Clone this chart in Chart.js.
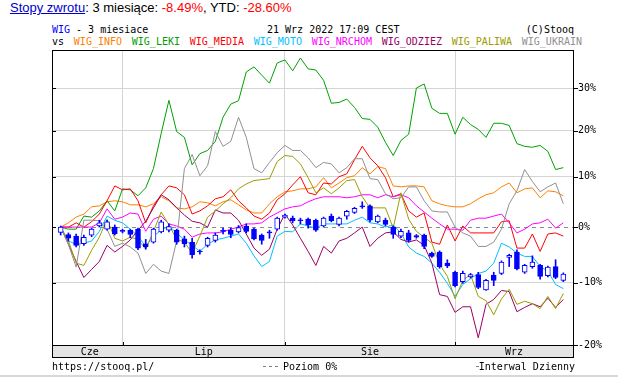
<!DOCTYPE html>
<html>
<head>
<meta charset="utf-8">
<script src="https://cdn.jsdelivr.net/npm/chart.js@4.4.1/dist/chart.umd.min.js"></script>
<style>
  html, body { margin: 0; padding: 0; background: #fff; }
  #wrap { position: relative; width: 618px; height: 378px; overflow: hidden; }
  #chart { position: absolute; left: 0; top: 0; }
  .title { position: absolute; left: 10px; top: 0; font: 13px "Liberation Sans", Arial, sans-serif; line-height: 15px; white-space: nowrap; color: #000; }
  .title a { color: #0000cc; text-decoration: underline; }
  .red { color: #ff0000; }
  .mono { position: absolute; font: 10px "DejaVu Sans Mono", monospace; line-height: 12px; white-space: nowrap; color: #000; }
  #legend { display: flex; gap: 9.8px; }
  .dash { position: absolute; left: 263px; top: 366px; width: 18px; height: 1px; background: repeating-linear-gradient(to right, #808080 0 3px, transparent 3px 6px); }
</style>
</head>
<body>
<div id="wrap">
  <div class="title"><a>Stopy zwrotu</a>: 3 miesiące: <span class="red">-8.49%</span>, YTD: <span class="red">-28.60%</span></div>
  <div class="mono" style="left:52px;top:23.5px"><span style="color:#0000ff">WIG</span> - 3 miesiace</div>
  <div class="mono" style="left:267px;top:23.5px">21 Wrz 2022 17:09 CEST</div>
  <div class="mono" style="right:44px;top:23.5px">(C)Stooq</div>
  <div class="mono" id="legend" style="left:52px;top:36px"><span>vs</span></div>
  <canvas id="chart" width="618" height="378"></canvas>
  <div class="mono" style="left:52px;top:360.5px">https://stooq.pl/</div>
  <div class="dash"></div>
  <div class="mono" style="left:283px;top:360.5px">Poziom 0%</div>
  <div style="position:absolute;left:476px;top:366px;width:3px;height:1px;background:#808080"></div>
  <div class="mono" style="right:43px;top:360.5px">Interwal Dzienny</div>
  <div style="position:absolute;left:0;top:375px;width:618px;height:2px;background:#d8d8d8"></div>
</div>
<script>
// trading days 21 Jun - 21 Sep 2022, x = day index
const monthNames = ["Cze", "Lip", "Sie", "Wrz"];
const monthStart = [8, 29, 51]; // first session of Lip, Sie, Wrz
const yTickPct = [-20, -10, 0, 10, 20, 30];

// WIG candles, % vs first close
const wigOpen = [-1.0, -1.4, -1.7, -3.1, -1.5, 0.2, -0.4, 0.0, -0.8, -0.6, -0.4, -3.1, -2.8, -0.9, -0.6, -0.6, -2.2, -2.8, -4.6, -3.4, -2.5, -0.8, -0.6, -0.9, 0.2, -0.4, -1.5, -1.1, -0.4, 1.9, 1.7, 1.4, 1.5, 1.3, 0.2, 2.1, 0.5, 2.1, 2.8, 3.9, 4.1, 1.0, 1.3, 0.0, -1.7, -1.1, -1.6, -1.5, -4.8, -4.6, -6.6, -8.2, -9.8, -9.0, -8.6, -11.2, -8.7, -8.4, -5.6, -4.6, -8.2, -7.2, -7.0, -8.8, -7.2, -9.6];
const wigHigh = [0.2, -1.1, -1.3, -1.5, -0.2, 1.3, 1.3, 0.4, -0.4, -0.4, -0.2, -2.3, -0.2, 1.3, 0.6, -0.4, -1.7, -2.1, -4.2, -1.9, -1.1, -0.2, -0.2, 0.3, 0.6, -0.2, -1.3, -0.6, 1.9, 2.5, 2.1, 1.7, 1.7, 1.5, 1.9, 2.5, 1.9, 3.2, 3.8, 4.9, 4.3, 2.3, 1.7, 0.2, -0.4, -0.6, -1.4, -1.3, -4.6, -4.4, -6.0, -8.0, -8.0, -8.4, -8.2, -9.4, -8.2, -6.2, -5.0, -4.2, -6.8, -5.3, -6.8, -7.1, -6.0, -8.3];
const wigLow = [-1.5, -2.6, -3.7, -3.4, -1.8, 0.0, -0.6, -1.5, -1.1, -2.0, -4.2, -4.1, -3.0, -1.1, -0.9, -3.2, -3.7, -5.7, -5.0, -3.7, -2.8, -1.3, -2.0, -1.1, -1.1, -2.4, -3.2, -2.1, -0.6, 1.7, 0.8, 0.6, -0.2, -0.8, 0.0, 1.0, 0.2, 1.5, 2.6, 3.6, 1.0, 0.8, 0.2, -2.1, -2.0, -2.8, -2.1, -4.0, -5.6, -7.5, -7.4, -10.7, -10.1, -9.2, -11.0, -11.3, -10.5, -8.6, -7.2, -7.8, -8.4, -7.5, -9.4, -9.0, -9.3, -9.8];
const wigClose = [0.0, -2.1, -3.4, -1.9, -0.4, 0.8, 1.0, -1.3, -0.8, -1.4, -3.9, -3.7, -0.4, 1.0, 0.1, -2.8, -3.1, -5.1, -4.6, -2.1, -1.5, -0.8, -1.4, -0.1, -0.8, -2.2, -2.5, -1.1, 1.7, 2.3, 1.2, 1.2, 0.4, -0.6, 1.7, 1.2, 1.7, 3.0, 3.6, 3.9, 1.3, 2.1, 0.5, -1.4, -0.8, -2.5, -1.9, -3.6, -5.4, -7.2, -7.1, -10.5, -8.4, -8.6, -10.8, -9.6, -9.6, -6.4, -5.2, -7.6, -7.0, -6.4, -8.9, -7.3, -9.1, -8.5];

// compared indices, % change
const wigInfo = [0, 0.8, 1.9, 2.5, 3.9, 4.1, 4.9, 5.1, 4.9, 4.3, 4.3, 3.9, 4.5, 5.9, 5.1, 3.7, 3.5, 3.9, 4.9, 4.7, 4.1, 4.9, 5.3, 4.3, 3.3, 2.7, 2.7, 4.5, 5.9, 6.9, 7.1, 7.5, 7.5, 7.9, 9.8, 7.7, 8.7, 9.8, 10.2, 11.9, 10.6, 12.1, 11.7, 8.1, 7.9, 8.1, 8.1, 7.9, 5.1, 4.5, 4.1, 3.9, 3.9, 4.5, 5.5, 6.3, 6.7, 7.9, 8.7, 6.7, 7.5, 7.7, 5.7, 7.1, 6.9, 6.1];
const wigLeki = [0, -0.4, -0.4, 2.1, 1.9, 3.1, 5.1, 3.1, 7.5, 7.3, 6.1, 7.7, 11.7, 19.4, 27.1, 19.8, 18.5, 12.5, 14.9, 15.6, 17.6, 23.1, 26.2, 27.0, 34.1, 35.4, 33.3, 31.3, 36.4, 37.2, 34.4, 37.7, 34.9, 34.6, 32.0, 26.4, 26.6, 27.4, 25.4, 22.8, 22.6, 20.8, 17.4, 14.5, 17.8, 19.2, 30.1, 31.1, 25.2, 24.0, 24.0, 19.2, 23.1, 21.4, 20.3, 18.5, 21.7, 21.7, 21.2, 17.1, 16.5, 16.3, 16.7, 15.4, 11.5, 11.9];
const wigMedia = [0, 0, 0.8, 0, 1.0, 2.5, 5.1, 8.1, 7.3, 7.5, 5.1, 0.8, 4.1, 6.3, 8.1, 7.7, 6.3, 2.5, 3.1, 4.1, 5.5, 5.9, 7.3, 5.1, 3.7, 2.1, 1.5, 2.7, 5.3, 6.5, 8.3, 10.0, 6.7, 6.3, 8.7, 8.5, 10.0, 10.6, 13.6, 16.5, 14.0, 12.3, 9.8, 5.9, 6.5, 3.1, 1.9, 2.7, -2.8, -3.2, 0.4, -2.6, 0.2, -1.1, -1.1, -1.1, -1.1, 1.0, 1.2, -3.9, -3.9, -1.3, -4.5, -1.3, -1.1, -1.7];
const wigMoto = [0, -2.6, -3.2, -3.0, -2.6, -0.8, 2.1, 1.3, 0.8, -0.4, -1.7, -3.6, -1.7, -0.6, 0.2, -1.1, -2.4, -3.4, -4.5, -3.2, -2.4, -2.1, -1.7, -1.3, -3.0, -5.3, -7.2, -6.3, -1.7, -0.8, -0.9, 0.6, 0.2, -0.2, 0.6, 0.6, 0.6, 0.6, 1.3, 1.9, 0.8, 0.6, 0, 0.4, -1.1, -3.7, -4.8, -5.4, -6.6, -8.2, -10.1, -12.3, -10.3, -9.3, -8.4, -8.0, -6.6, -3.0, -3.7, -4.8, -5.4, -5.4, -7.2, -8.0, -10.3, -11.0];
const wigNrchom = [0, 0, 0, 0, 0, 0.8, 3.5, 1.5, 1.9, 2.7, 2.5, -0.8, 1.5, 2.1, 0.6, 0.2, -0.4, -1.9, -1.3, -1.1, -1.1, -0.9, -0.4, 0, 0.6, 0.6, 0.8, 1.9, 2.7, 3.5, 3.9, 4.1, 4.9, 5.5, 5.9, 5.9, 5.9, 5.7, 5.9, 6.3, 6.3, 5.7, 6.3, 5.9, 6.3, 5.7, 4.1, 2.9, 1.7, 0.6, -0.4, -0.4, -0.6, 1.3, 1.7, 1.7, 2.1, 2.5, 0.8, -1.1, -0.4, 0.6, 0.8, 1.5, -0.2, 0.8];
const wigOdziez = [0, -3.2, -6.3, -9.1, -7.7, -6.3, -3.4, -4.6, -3.6, -2.4, -0.6, 1.1, 3.7, 6.3, 5.3, 3.7, 2.3, 1.1, 0.8, 0, 3.3, 2.7, 2.7, 1.3, -1.3, -3.9, -5.2, -4.1, -0.4, 2.5, 0.4, -2.1, -4.5, -7.0, -3.6, -4.8, -2.6, -2.1, -1.1, 0, -3.6, -2.1, -1.1, -0.9, -2.3, -2.8, -2.4, -3.4, -6.6, -12.0, -12.3, -14.9, -14.0, -14.0, -18.9, -13.6, -12.8, -11.3, -11.5, -14.8, -14.1, -13.5, -14.0, -12.6, -14.1, -12.8];
const wigPaliwa = [0, -2.6, -6.6, -7.0, -4.3, -1.9, 1.5, -2.1, -2.6, -1.9, -2.3, -4.1, -0.8, 2.9, 0.4, -2.3, -2.8, -4.8, -1.7, 1.9, 3.1, 4.5, 5.7, 7.5, 8.5, 9.2, 9.4, 9.6, 13.2, 14.5, 14.3, 12.7, 9.8, 6.7, 7.7, 6.5, 7.7, 9.2, 9.4, 5.9, 3.7, 3.7, 3.7, -0.2, 6.7, 1.5, -0.8, -1.9, -3.0, -6.8, -8.9, -12.7, -9.6, -8.6, -12.3, -13.0, -15.3, -12.7, -11.1, -13.6, -13.1, -13.5, -14.3, -12.3, -14.3, -11.8];
const wigUkrain = [0, -3.2, -7.3, 1.3, 1.3, 1.2, -0.4, -3.6, -3.0, -3.7, -4.8, -8.4, -6.8, -8.0, -8.4, -2.6, 11.7, 14.7, 10.2, 12.3, 19.8, 16.5, 17.6, 23.1, 18.5, 11.7, 10.8, 13.0, 15.1, 16.7, 15.6, 15.6, 14.0, 11.9, 13.0, 12.7, 10.8, 11.9, 13.8, 13.8, 9.6, 9.4, 6.5, 5.5, 5.7, 7.9, 7.9, 5.1, 3.1, 2.9, 2.9, 0.0, -1.1, -1.7, -3.6, -3.6, -2.8, -0.4, 4.5, 7.1, 11.5, 9.0, 6.9, 7.9, 8.7, 4.5];

const series = [
  { label: "WIG_INFO", data: wigInfo, color: "#ff8000" },
  { label: "WIG_LEKI", data: wigLeki, color: "#00a000" },
  { label: "WIG_MEDIA", data: wigMedia, color: "#ff0000" },
  { label: "WIG_MOTO", data: wigMoto, color: "#00bfff" },
  { label: "WIG_NRCHOM", data: wigNrchom, color: "#ff00ff" },
  { label: "WIG_ODZIEZ", data: wigOdziez, color: "#990066" },
  { label: "WIG_PALIWA", data: wigPaliwa, color: "#9c9c00" },
  { label: "WIG_UKRAIN", data: wigUkrain, color: "#909090" },
];

const legend = document.getElementById("legend");
series.forEach((s) => {
  const el = document.createElement("span");
  el.textContent = s.label;
  el.style.color = s.color;
  legend.appendChild(el);
});

const ratio = (p) => 1 + p / 100;
const xMin = -1.12;
const xMax = 66.25;
const edges = [-0.5, ...monthStart, xMax];
const monthMid = monthNames.map((_, i) => (edges[i] + edges[i + 1]) / 2);
const isStart = (v) => monthStart.some((m) => Math.abs(m - v) < 1e-6);
const blue = "#0000ff";
const gridColor = "#d4d4d4";
const monoFont = { family: "DejaVu Sans Mono", size: 10 };

const lineSets = series.map((s, k) => ({
  type: "line",
  label: s.label,
  data: s.data.map((v, i) => ({ x: i, y: ratio(v) })),
  borderColor: s.color,
  borderWidth: 1,
  pointRadius: 0,
  tension: 0,
  fill: false,
  order: 20 - k,
}));

const wicks = {
  type: "bar",
  label: "WIG wick",
  data: wigLow.map((l, i) => ({ x: i, y: [ratio(l), ratio(wigHigh[i])] })),
  backgroundColor: blue,
  borderWidth: 0,
  barThickness: 1,
  grouped: false,
  order: 1,
};

const bodies = {
  type: "bar",
  label: "WIG",
  data: wigOpen.map((o, i) => ({ x: i, y: [ratio(o), ratio(wigClose[i])] })),
  backgroundColor: wigOpen.map((o, i) => (wigClose[i] > o ? "#ffffff" : blue)),
  borderColor: blue,
  borderWidth: 1,
  borderSkipped: false,
  barThickness: 5,
  minBarLength: 1,
  grouped: false,
  order: 0,
};

// band with months, zero line, frame and tick marks
const frame = {
  id: "frame",
  beforeDraw(chart) {
    const { ctx, chartArea: a } = chart;
    ctx.save();
    ctx.fillStyle = "#e4e4e4";
    ctx.fillRect(a.left, a.bottom, a.right - a.left + 1, 12);
    ctx.strokeStyle = "#000";
    ctx.lineWidth = 1;
    ctx.strokeRect(a.left + 0.5, a.bottom + 0.5, a.right - a.left, 12);
    ctx.restore();
  },
  beforeDatasetsDraw(chart) {
    const { ctx, chartArea: a, scales } = chart;
    const y = Math.round(scales.y.getPixelForValue(1)) + 0.5;
    ctx.save();
    ctx.strokeStyle = "#8c8c8c";
    ctx.lineWidth = 1;
    ctx.setLineDash([4, 4]);
    ctx.beginPath();
    ctx.moveTo(a.left, y);
    ctx.lineTo(a.right, y);
    ctx.stroke();
    ctx.restore();
  },
  afterDatasetsDraw(chart) {
    const { ctx, chartArea: a, scales } = chart;
    ctx.save();
    ctx.strokeStyle = "#000";
    ctx.lineWidth = 1;
    ctx.strokeRect(a.left + 0.5, a.top + 0.5, a.right - a.left, a.bottom - a.top);
    ctx.beginPath();
    yTickPct.forEach((p) => {
      const y = Math.round(scales.y.getPixelForValue(ratio(p))) + 0.5;
      ctx.moveTo(a.left, y);
      ctx.lineTo(a.left + 4, y);
      ctx.moveTo(a.right, y);
      ctx.lineTo(a.right + 5, y);
    });
    [xMin, ...monthStart].forEach((m) => {
      const x = Math.round(scales.x.getPixelForValue(m)) + 0.5;
      ctx.moveTo(x, a.bottom);
      ctx.lineTo(x, a.bottom - 3);
    });
    ctx.stroke();
    ctx.restore();
  },
};

new Chart(document.getElementById("chart"), {
  type: "line",
  data: { datasets: [bodies, wicks, ...lineSets] },
  plugins: [frame],
  options: {
    responsive: false,
    animation: false,
    events: [],
    layout: { padding: { left: 52, top: 50, right: 0, bottom: 0 } },
    plugins: { legend: { display: false }, tooltip: { enabled: false } },
    scales: {
      x: {
        type: "linear",
        min: xMin,
        max: xMax,
        bounds: "data",
        offset: false,
        afterBuildTicks: (sc) => {
          sc.ticks = [...monthStart, ...monthMid].sort((p, q) => p - q).map((v) => ({ value: v }));
        },
        afterFit: (sc) => { sc.height = 33; },
        grid: {
          offset: false,
          color: (c) => (c.tick && isStart(c.tick.value) ? gridColor : "rgba(0,0,0,0)"),
          drawTicks: false,
        },
        border: { display: false },
        ticks: {
          autoSkip: false,
          maxRotation: 0,
          padding: 1,
          color: "#000",
          font: monoFont,
          callback: (v) => {
            const k = monthMid.findIndex((m) => Math.abs(m - v) < 1e-6);
            return k >= 0 ? monthNames[k] : "";
          },
        },
      },
      y: {
        type: "logarithmic",
        position: "right",
        min: ratio(-20),
        max: ratio(39.8),
        bounds: "data",
        beginAtZero: false,
        afterBuildTicks: (sc) => {
          sc.ticks = yTickPct.map((p) => ({ value: ratio(p) }));
        },
        afterFit: (sc) => { sc.width = 45; },
        grid: {
          color: (c) => (c.tick && Math.abs(c.tick.value - 1) < 1e-6 ? "rgba(0,0,0,0)" : gridColor),
          drawTicks: false,
        },
        border: { display: false },
        ticks: {
          autoSkip: false,
          padding: 5,
          color: "#000",
          font: monoFont,
          callback: (v) => `${Math.round((v - 1) * 100)}%`,
        },
      },
    },
  },
});
</script>
</body>
</html>
